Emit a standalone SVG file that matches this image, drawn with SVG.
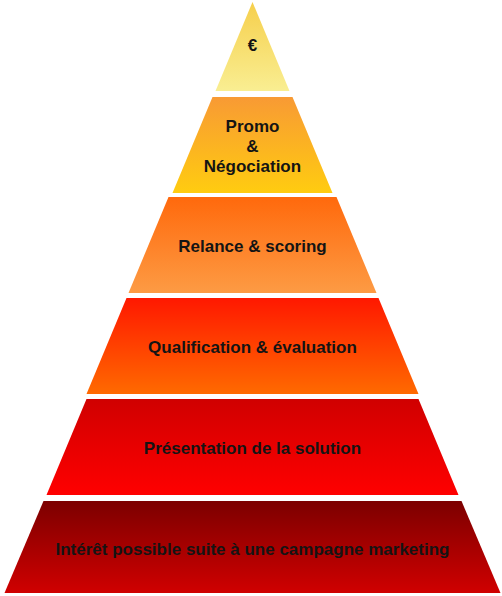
<svg xmlns="http://www.w3.org/2000/svg" width="502" height="596" viewBox="0 0 502 596">
<defs>
<linearGradient id="g1" x1="0" y1="0" x2="0" y2="1"><stop offset="0" stop-color="#f6cf4c"/><stop offset="1" stop-color="#f9ee92"/></linearGradient>
<linearGradient id="g2" x1="0" y1="0" x2="0" y2="1"><stop offset="0" stop-color="#f89a34"/><stop offset="1" stop-color="#ffcc10"/></linearGradient>
<linearGradient id="g3" x1="0" y1="0" x2="0" y2="1"><stop offset="0" stop-color="#ff690c"/><stop offset="1" stop-color="#fd9b44"/></linearGradient>
<linearGradient id="g4" x1="0" y1="0" x2="0" y2="1"><stop offset="0" stop-color="#ff1800"/><stop offset="1" stop-color="#ff6a00"/></linearGradient>
<linearGradient id="g5" x1="0" y1="0" x2="0" y2="1"><stop offset="0" stop-color="#d00000"/><stop offset="1" stop-color="#ff0000"/></linearGradient>
<linearGradient id="g6" x1="0" y1="0" x2="0" y2="1"><stop offset="0" stop-color="#7c0000"/><stop offset="1" stop-color="#d00000"/></linearGradient>
</defs>
<style>
text{font-family:"Liberation Sans",Arial,sans-serif;font-weight:bold;font-size:17px;fill:#141414;text-anchor:middle}
</style>
<rect width="502" height="596" fill="#ffffff"/>
<g id="tier1">
<polygon points="252.5,2 289.5,91 215.5,91" fill="url(#g1)"/>
<text x="252.5" y="51">€</text>
</g>
<g id="tier2">
<polygon points="212.5,97 292.5,97 332.5,193 172.5,193" fill="url(#g2)"/>
<text x="252.5" y="132">Promo</text>
<text x="252.5" y="152">&amp;</text>
<text x="252.5" y="172">Négociation</text>
</g>
<g id="tier3">
<polygon points="168.5,197 336.5,197 376.5,293 128.5,293" fill="url(#g3)"/>
<text x="252.5" y="252">Relance &amp; scoring</text>
</g>
<g id="tier4">
<polygon points="126.5,298 378.5,298 418.5,394 86.5,394" fill="url(#g4)"/>
<text x="252.5" y="353">Qualification &amp; évaluation</text>
</g>
<g id="tier5">
<polygon points="86.5,399 418.5,399 458.5,495 46.5,495" fill="url(#g5)"/>
<text x="252.5" y="454">Présentation de la solution</text>
</g>
<g id="tier6">
<polygon points="43.5,501 461.5,501 500.5,593 4.5,593" fill="url(#g6)"/>
<text x="252.5" y="555">Intérêt possible suite à une campagne marketing</text>
</g>
<g id="connectors"/>
</svg>
